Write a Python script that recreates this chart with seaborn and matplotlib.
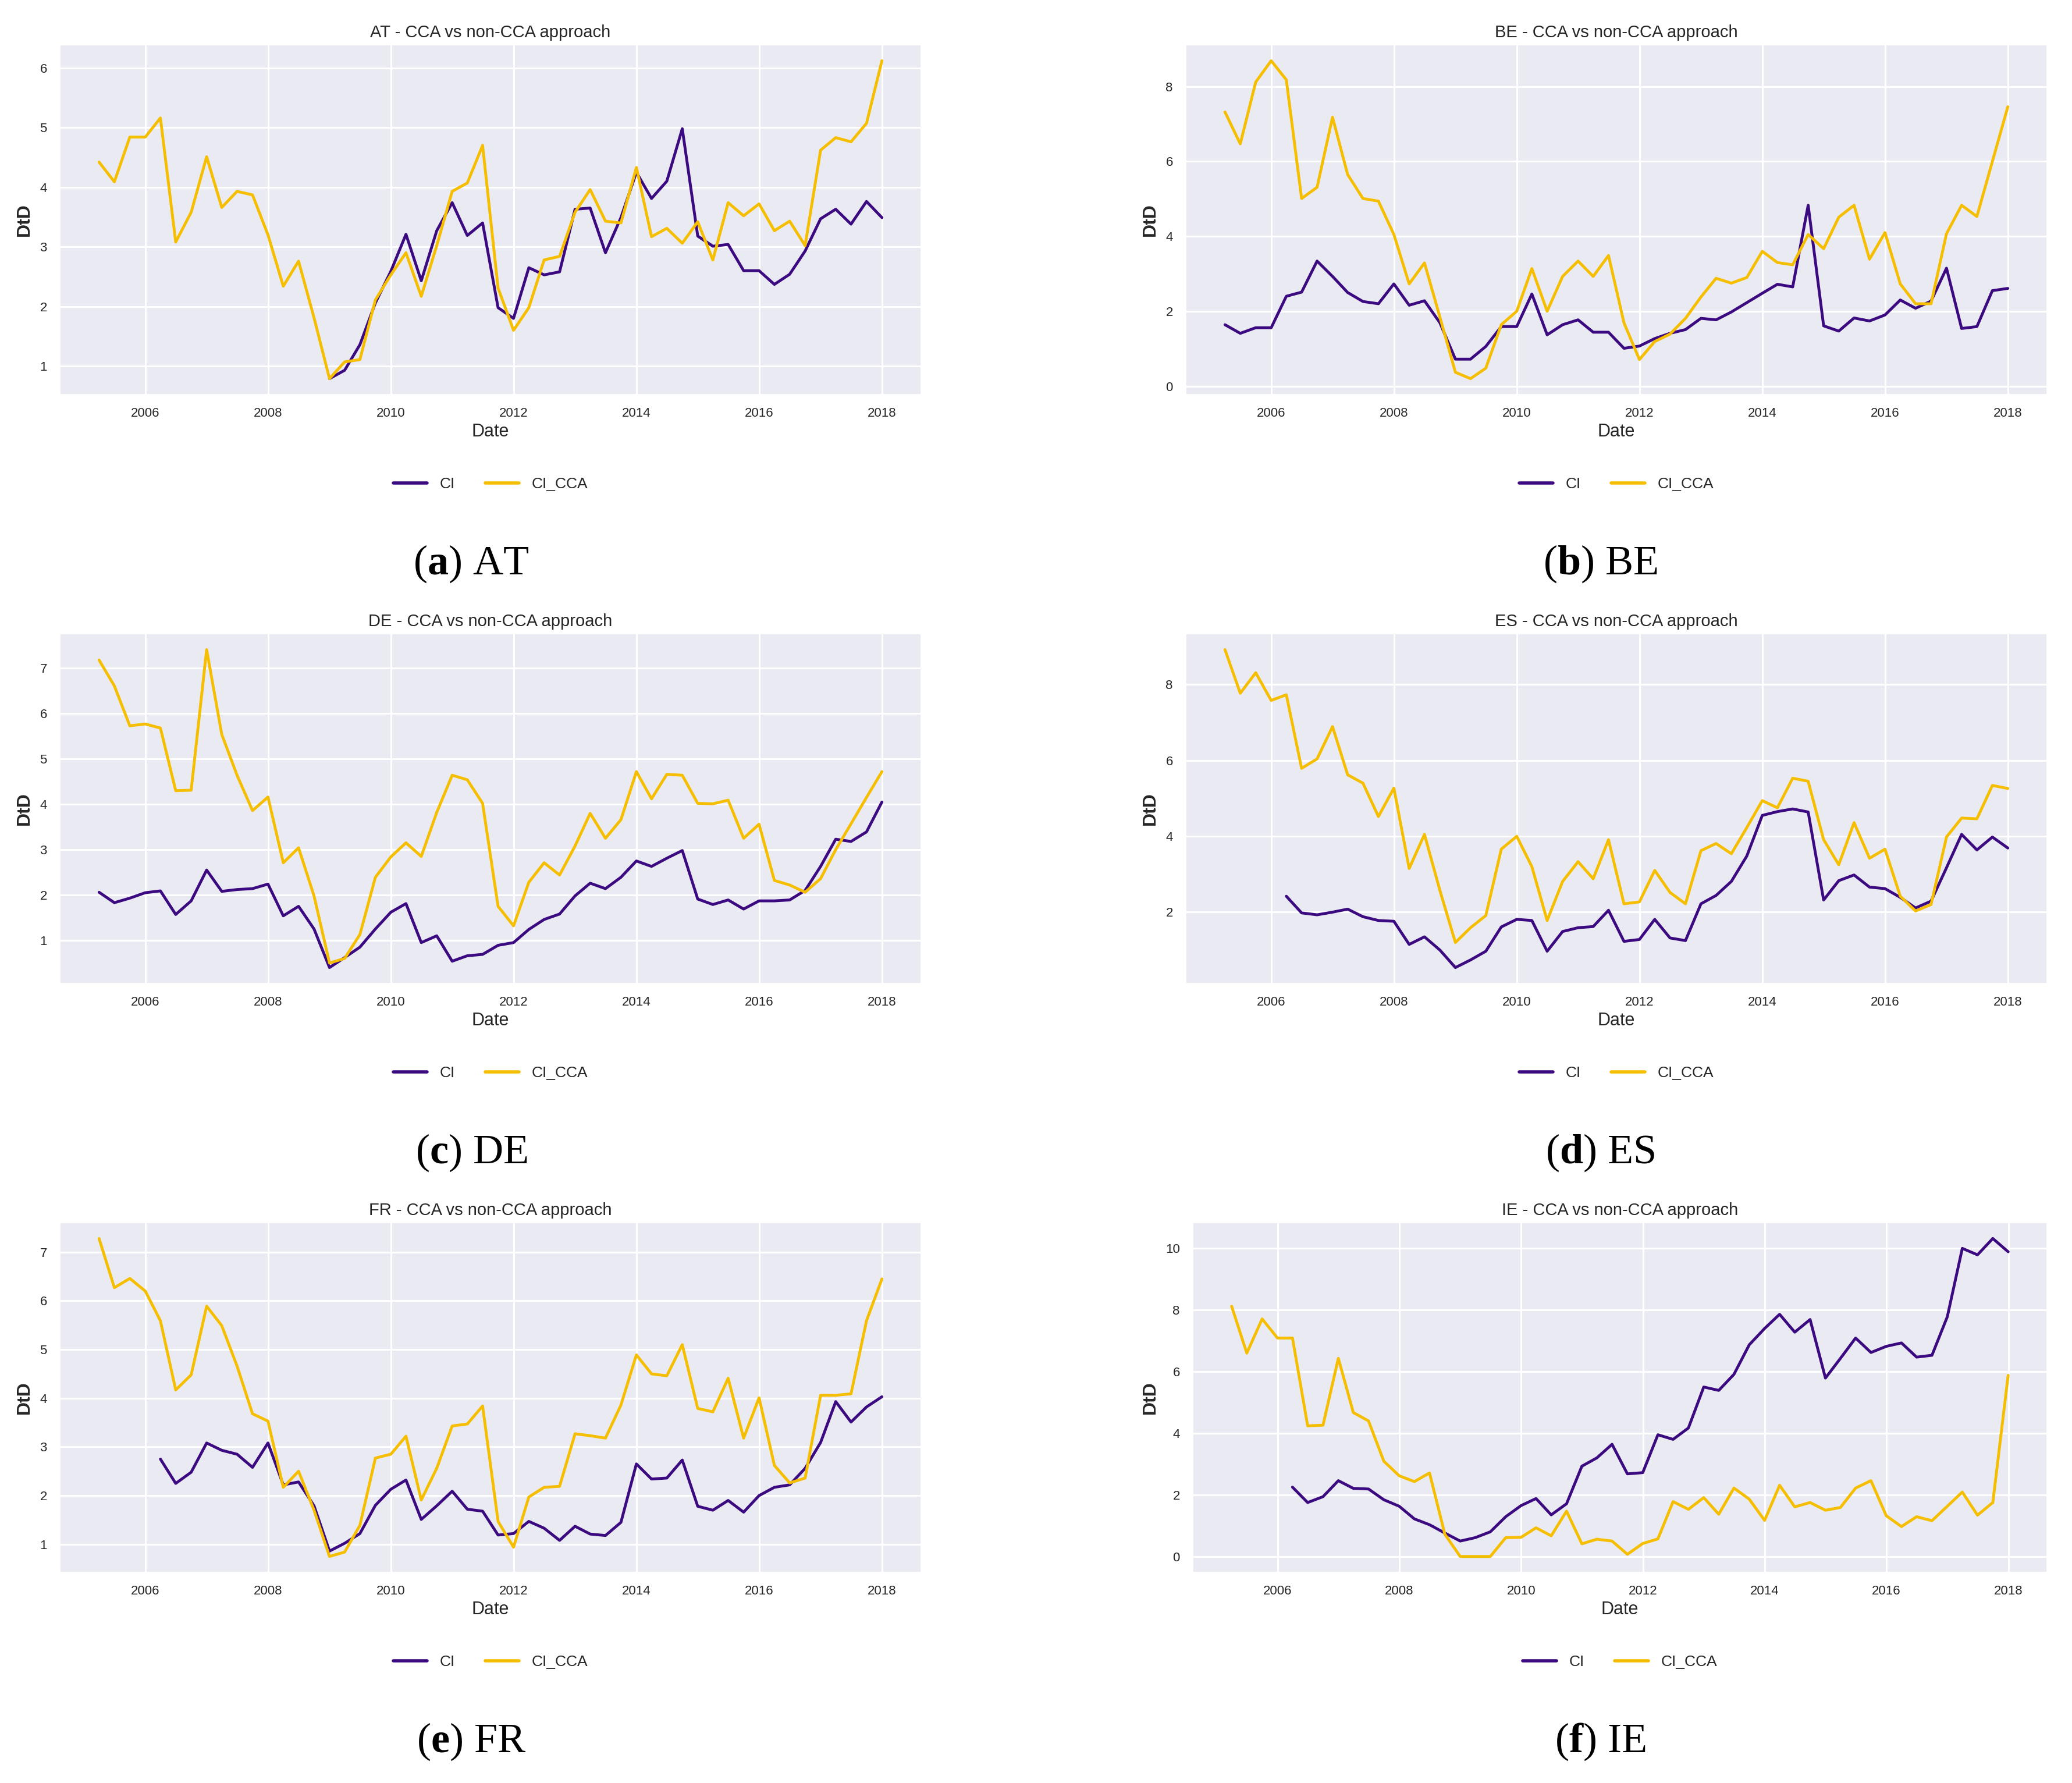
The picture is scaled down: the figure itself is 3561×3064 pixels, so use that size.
import pandas as pd
import numpy as np
import matplotlib
matplotlib.use("Agg")
import matplotlib.pyplot as plt
import matplotlib.dates as mdates
from matplotlib.ticker import MultipleLocator
import seaborn as sns

# Dates trimestrielles (fin de trimestre)
dates = pd.date_range("2005-03-31", periods=52, freq="QE")

countries = ["AT", "BE", "DE", "ES", "FR", "IE"]
letters = ["a", "b", "c", "d", "e", "f"]

at_ci = [None] * 15 + [0.79, 0.93, 1.36, 2.06, 2.59, 3.21, 2.43, 3.27, 3.74, 3.19,
                       3.40, 1.98, 1.80, 2.65, 2.53, 2.58, 3.63, 3.65, 2.90, 3.49,
                       4.25, 3.81, 4.10, 4.98, 3.18, 3.01, 3.04, 2.60, 2.60, 2.37,
                       2.54, 2.93, 3.47, 3.63, 3.38, 3.76, 3.49]
at_cca = [4.42, 4.09, 4.84, 4.84, 5.16, 3.08, 3.58, 4.51, 3.66, 3.93,
          3.87, 3.20, 2.34, 2.76, 1.81, 0.79, 1.07, 1.11, 2.11, 2.53,
          2.90, 2.17, 3.02, 3.93, 4.07, 4.70, 2.31, 1.60, 1.98, 2.78,
          2.84, 3.58, 3.96, 3.43, 3.40, 4.33, 3.17, 3.31, 3.06, 3.42,
          2.78, 3.74, 3.52, 3.72, 3.27, 3.43, 3.02, 4.62, 4.83, 4.76,
          5.07, 6.12]

be_ci = [1.64, 1.41, 1.56, 1.56, 2.40, 2.51, 3.34, 2.93, 2.50, 2.26,
         2.20, 2.73, 2.16, 2.28, 1.69, 0.72, 0.72, 1.06, 1.59, 1.59,
         2.46, 1.37, 1.64, 1.77, 1.44, 1.44, 1.01, 1.07, 1.27, 1.41,
         1.51, 1.81, 1.77, 1.98, 2.23, 2.48, 2.72, 2.65, 4.83, 1.61,
         1.47, 1.82, 1.74, 1.90, 2.30, 2.08, 2.27, 3.15, 1.54, 1.59,
         2.55, 2.61]
be_cca = [7.32, 6.47, 8.12, 8.69, 8.18, 5.01, 5.31, 7.18, 5.65, 5.01,
          4.94, 4.05, 2.73, 3.29, 1.84, 0.37, 0.20, 0.48, 1.64, 2.00,
          3.14, 2.00, 2.93, 3.34, 2.93, 3.49, 1.69, 0.71, 1.19, 1.39,
          1.81, 2.38, 2.88, 2.75, 2.90, 3.60, 3.30, 3.24, 4.05, 3.67,
          4.51, 4.83, 3.39, 4.10, 2.73, 2.20, 2.20, 4.07, 4.83, 4.53,
          6.00, 7.46]

de_ci = [2.06, 1.83, 1.93, 2.05, 2.09, 1.57, 1.87, 2.55, 2.08, 2.12,
         2.14, 2.24, 1.54, 1.75, 1.25, 0.40, 0.62, 0.85, 1.25, 1.62,
         1.81, 0.95, 1.10, 0.54, 0.66, 0.69, 0.89, 0.95, 1.24, 1.46,
         1.58, 1.98, 2.26, 2.14, 2.39, 2.75, 2.63, 2.81, 2.98, 1.91,
         1.79, 1.89, 1.69, 1.87, 1.87, 1.89, 2.10, 2.63, 3.23, 3.18,
         3.39, 4.05]
de_cca = [7.18, 6.61, 5.73, 5.77, 5.68, 4.30, 4.31, 7.41, 5.54, 4.64,
          3.86, 4.16, 2.71, 3.04, 1.98, 0.50, 0.60, 1.13, 2.39, 2.84,
          3.15, 2.85, 3.82, 4.64, 4.54, 4.02, 1.75, 1.32, 2.28, 2.71,
          2.44, 3.08, 3.80, 3.25, 3.66, 4.72, 4.12, 4.66, 4.64, 4.02,
          4.01, 4.09, 3.25, 3.56, 2.32, 2.22, 2.06, 2.36, 3.00, 3.57,
          4.15, 4.72]

es_ci = [None] * 4 + [2.42, 1.98, 1.93, 2.00, 2.08, 1.88, 1.78, 1.76, 1.15, 1.35,
                      1.00, 0.54, 0.74, 0.97, 1.61, 1.81, 1.78, 0.97, 1.49, 1.59,
                      1.62, 2.05, 1.23, 1.28, 1.81, 1.32, 1.25, 2.22, 2.44, 2.81,
                      3.48, 4.55, 4.65, 4.72, 4.64, 2.32, 2.83, 2.98, 2.66, 2.62,
                      2.39, 2.11, 2.29, 3.17, 4.05, 3.64, 3.98, 3.69]
es_cca = [8.92, 7.77, 8.31, 7.58, 7.73, 5.79, 6.04, 6.89, 5.62, 5.40,
          4.52, 5.27, 3.15, 4.05, 2.57, 1.20, 1.59, 1.91, 3.66, 4.00,
          3.20, 1.78, 2.81, 3.33, 2.88, 3.91, 2.22, 2.27, 3.10, 2.52,
          2.22, 3.62, 3.81, 3.54, 4.23, 4.94, 4.75, 5.53, 5.45, 3.91,
          3.25, 4.36, 3.42, 3.66, 2.42, 2.03, 2.20, 3.98, 4.48, 4.46,
          5.34, 5.26]

fr_ci = [None] * 4 + [2.75, 2.25, 2.48, 3.08, 2.93, 2.85, 2.58, 3.08, 2.22, 2.28,
                      1.79, 0.86, 1.02, 1.22, 1.80, 2.13, 2.32, 1.51, 1.79, 2.09,
                      1.72, 1.68, 1.19, 1.22, 1.47, 1.33, 1.08, 1.37, 1.21, 1.18,
                      1.45, 2.65, 2.34, 2.36, 2.73, 1.78, 1.70, 1.90, 1.66, 2.00,
                      2.17, 2.22, 2.56, 3.09, 3.93, 3.51, 3.82, 4.03]
fr_cca = [7.28, 6.27, 6.46, 6.20, 5.59, 4.17, 4.48, 5.89, 5.49, 4.66,
          3.68, 3.53, 2.17, 2.50, 1.70, 0.75, 0.84, 1.39, 2.77, 2.85,
          3.22, 1.91, 2.56, 3.43, 3.47, 3.84, 1.47, 0.94, 1.97, 2.17,
          2.19, 3.27, 3.23, 3.18, 3.86, 4.89, 4.50, 4.46, 5.10, 3.79,
          3.72, 4.41, 3.18, 4.01, 2.62, 2.26, 2.36, 4.06, 4.06, 4.09,
          5.59, 6.45]

ie_ci = [None] * 4 + [2.25, 1.75, 1.94, 2.46, 2.21, 2.19, 1.84, 1.63, 1.22, 1.03,
                      0.76, 0.50, 0.61, 0.80, 1.29, 1.65, 1.88, 1.35, 1.71, 2.93,
                      3.20, 3.64, 2.68, 2.72, 3.95, 3.80, 4.17, 5.50, 5.39, 5.91,
                      6.87, 7.40, 7.86, 7.28, 7.69, 5.79, 6.43, 7.09, 6.62, 6.82,
                      6.93, 6.47, 6.53, 7.78, 10.00, 9.79, 10.32, 9.89]
ie_cca = [8.12, 6.60, 7.71, 7.09, 7.09, 4.24, 4.26, 6.43, 4.67, 4.40,
          3.09, 2.62, 2.43, 2.71, 0.72, 0.00, 0.00, 0.00, 0.61, 0.62,
          0.93, 0.67, 1.47, 0.41, 0.56, 0.50, 0.07, 0.42, 0.57, 1.78,
          1.53, 1.91, 1.37, 2.22, 1.86, 1.17, 2.31, 1.61, 1.75, 1.50,
          1.59, 2.22, 2.46, 1.32, 0.97, 1.29, 1.16, 1.63, 2.09, 1.34,
          1.75, 5.88]

ci_all = [at_ci, be_ci, de_ci, es_ci, fr_ci, ie_ci]
cca_all = [at_cca, be_cca, de_cca, es_cca, fr_cca, ie_cca]
ytick_step = [1, 2, 1, 2, 1, 2]

colors = ["#3C0A80", "#F6BE00"]

sns.set_theme(style="darkgrid", rc={"grid.linewidth": 2.2})
plt.rcParams['font.family'] = ['Liberation Sans', 'DejaVu Sans']
plt.rcParams['mathtext.fontset'] = 'custom'
plt.rcParams['mathtext.rm'] = 'Liberation Serif'
plt.rcParams['mathtext.bf'] = 'Liberation Serif:bold'

W, H = 3561, 3064
fig = plt.figure(figsize=(W / 100, H / 100), dpi=100)

# positions des axes en pixels (gauche, haut, droite, bas)
col_left = [103, 2038]
col_right = [1583, 3518]
row_top = [77, 1089, 2101]
ax_h = 601
cap_x = [810, 2750]
cap_y = [969, 1981, 2993]

for i, c in enumerate(countries):
    r, k = i // 2, i % 2
    left = col_left[k] + (12 if c == "IE" else 0)
    ax = fig.add_axes([left / W, 1 - (row_top[r] + ax_h) / H,
                       (col_right[k] - left) / W, ax_h / H])

    df = pd.DataFrame({"Date": dates, "CI": ci_all[i], "CI_CCA": cca_all[i]})
    df_long = df.melt(id_vars="Date", var_name="serie", value_name="DtD").dropna()
    df_long["DtD"] = df_long["DtD"].astype(float)

    sns.lineplot(data=df_long, x="Date", y="DtD", hue="serie",
                 hue_order=["CI", "CI_CCA"], palette=colors, linewidth=3.5, ax=ax)

    ax.xaxis.set_major_locator(mdates.YearLocator(2))
    ax.xaxis.set_major_formatter(mdates.DateFormatter("%Y"))
    ax.yaxis.set_major_locator(MultipleLocator(ytick_step[i]))
    ax.tick_params(labelsize=16, pad=10)

    ax.set_title(f"{c} - CCA vs non-CCA approach", fontsize=21, pad=9)
    ax.set_xlabel("Date", fontsize=22, labelpad=4)
    ax.set_ylabel("DtD", fontsize=23, fontweight="bold", labelpad=8)

    sns.move_legend(ax, "center", bbox_to_anchor=(0.5, -0.256), ncol=2,
                    title=None, frameon=False, fontsize=19,
                    handlelength=2.2, columnspacing=2.0)
    for line in ax.get_legend().get_lines():
        line.set_linewidth(4)

    fig.text(cap_x[k] / W, 1 - cap_y[r] / H, rf"($\mathbf{{{letters[i]}}}$) {c}",
             ha="center", va="center", fontsize=52, family="Liberation Serif",
             color="black")

plt.savefig("out.png", dpi=100)
